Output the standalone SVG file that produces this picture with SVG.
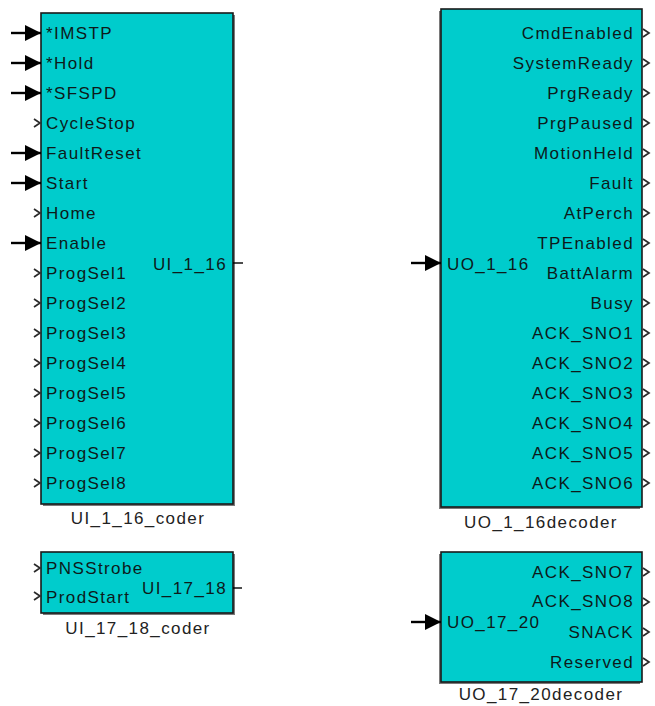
<svg xmlns="http://www.w3.org/2000/svg" width="655" height="706" viewBox="0 0 655 706">
<style>
.blk{fill:#00cccc;stroke:#1a1a1a;stroke-width:1.6}
.shd{fill:#7a7a7a}
text{font-family:"Liberation Sans",Arial,sans-serif;font-size:17px;letter-spacing:1.4px;fill:#0d1a1a}
.r{text-anchor:end}
.c{text-anchor:middle;fill:#222}
.chev{fill:none;stroke:#2a2a2a;stroke-width:1.7}
.sig{stroke:#000;stroke-width:2.4;fill:none}
.out{stroke:#000;stroke-width:1.4;fill:none}
</style>
<defs>
<marker id="ah" markerUnits="userSpaceOnUse" viewBox="0 0 16 16" markerWidth="16" markerHeight="16" refX="16" refY="8" orient="auto">
<path d="M0,0 L16,8 L0,16 Z" fill="#000"/>
</marker>
</defs>

<g id="UI_1_16_coder">
<rect class="shd" x="43" y="15" width="192" height="491"/>
<rect class="blk" x="41" y="13" width="192" height="491"/>
<text x="46" y="39">*IMSTP</text>
<text x="46" y="69">*Hold</text>
<text x="46" y="99">*SFSPD</text>
<text x="46" y="129">CycleStop</text>
<text x="46" y="159">FaultReset</text>
<text x="46" y="189">Start</text>
<text x="46" y="219">Home</text>
<text x="46" y="249">Enable</text>
<text x="46" y="279">ProgSel1</text>
<text x="46" y="309">ProgSel2</text>
<text x="46" y="339">ProgSel3</text>
<text x="46" y="369">ProgSel4</text>
<text x="46" y="399">ProgSel5</text>
<text x="46" y="429">ProgSel6</text>
<text x="46" y="459">ProgSel7</text>
<text x="46" y="489">ProgSel8</text>
<text class="r" x="227" y="269.5">UI_1_16</text>
<polyline class="chev" points="34,119 40,123 34,127"/>
<polyline class="chev" points="34,209 40,213 34,217"/>
<polyline class="chev" points="34,269 40,273 34,277"/>
<polyline class="chev" points="34,299 40,303 34,307"/>
<polyline class="chev" points="34,329 40,333 34,337"/>
<polyline class="chev" points="34,359 40,363 34,367"/>
<polyline class="chev" points="34,389 40,393 34,397"/>
<polyline class="chev" points="34,419 40,423 34,427"/>
<polyline class="chev" points="34,449 40,453 34,457"/>
<polyline class="chev" points="34,479 40,483 34,487"/>
<text class="c" x="138" y="523.5">UI_1_16_coder</text>
</g>

<g id="UI_17_18_coder">
<rect class="shd" x="43" y="554" width="192" height="61"/>
<rect class="blk" x="41" y="552" width="192" height="61"/>
<text x="46" y="574">PNSStrobe</text>
<text x="46" y="603">ProdStart</text>
<text class="r" x="227" y="594">UI_17_18</text>
<polyline class="chev" points="34,564 40,568 34,572"/>
<polyline class="chev" points="34,592 40,596 34,600"/>
<text class="c" x="138" y="633.5">UI_17_18_coder</text>
</g>

<g id="UO_1_16decoder">
<rect class="shd" x="439" y="11" width="201" height="498"/>
<rect class="blk" x="441" y="9" width="201" height="498"/>
<text x="447" y="269.5">UO_1_16</text>
<text class="r" x="634" y="39">CmdEnabled</text>
<text class="r" x="634" y="69">SystemReady</text>
<text class="r" x="634" y="99">PrgReady</text>
<text class="r" x="634" y="129">PrgPaused</text>
<text class="r" x="634" y="159">MotionHeld</text>
<text class="r" x="634" y="189">Fault</text>
<text class="r" x="634" y="219">AtPerch</text>
<text class="r" x="634" y="249">TPEnabled</text>
<text class="r" x="634" y="279">BattAlarm</text>
<text class="r" x="634" y="309">Busy</text>
<text class="r" x="634" y="339">ACK_SNO1</text>
<text class="r" x="634" y="369">ACK_SNO2</text>
<text class="r" x="634" y="399">ACK_SNO3</text>
<text class="r" x="634" y="429">ACK_SNO4</text>
<text class="r" x="634" y="459">ACK_SNO5</text>
<text class="r" x="634" y="489">ACK_SNO6</text>
<polyline class="chev" points="643,29 649,33 643,37"/>
<polyline class="chev" points="643,59 649,63 643,67"/>
<polyline class="chev" points="643,89 649,93 643,97"/>
<polyline class="chev" points="643,119 649,123 643,127"/>
<polyline class="chev" points="643,149 649,153 643,157"/>
<polyline class="chev" points="643,179 649,183 643,187"/>
<polyline class="chev" points="643,209 649,213 643,217"/>
<polyline class="chev" points="643,239 649,243 643,247"/>
<polyline class="chev" points="643,269 649,273 643,277"/>
<polyline class="chev" points="643,299 649,303 643,307"/>
<polyline class="chev" points="643,329 649,333 643,337"/>
<polyline class="chev" points="643,359 649,363 643,367"/>
<polyline class="chev" points="643,389 649,393 643,397"/>
<polyline class="chev" points="643,419 649,423 643,427"/>
<polyline class="chev" points="643,449 649,453 643,457"/>
<polyline class="chev" points="643,479 649,483 643,487"/>
<text class="c" x="541" y="527.5">UO_1_16decoder</text>
</g>

<g id="UO_17_20decoder">
<rect class="shd" x="439" y="554" width="201" height="130"/>
<rect class="blk" x="441" y="552" width="201" height="130"/>
<text x="447" y="628">UO_17_20</text>
<text class="r" x="634" y="577.5">ACK_SNO7</text>
<text class="r" x="634" y="607">ACK_SNO8</text>
<text class="r" x="634" y="637.5">SNACK</text>
<text class="r" x="634" y="667.5">Reserved</text>
<polyline class="chev" points="643,568 649,572 643,576"/>
<polyline class="chev" points="643,598 649,602 643,606"/>
<polyline class="chev" points="643,628 649,632 643,636"/>
<polyline class="chev" points="643,658 649,662 643,666"/>
<text class="c" x="541" y="699.5">UO_17_20decoder</text>
</g>

<g id="connectors">
<line class="sig" x1="11" y1="33" x2="41" y2="33" marker-end="url(#ah)"/>
<line class="sig" x1="11" y1="63" x2="41" y2="63" marker-end="url(#ah)"/>
<line class="sig" x1="11" y1="93" x2="41" y2="93" marker-end="url(#ah)"/>
<line class="sig" x1="11" y1="153" x2="41" y2="153" marker-end="url(#ah)"/>
<line class="sig" x1="11" y1="183" x2="41" y2="183" marker-end="url(#ah)"/>
<line class="sig" x1="11" y1="243" x2="41" y2="243" marker-end="url(#ah)"/>
<line class="sig" x1="411" y1="263" x2="441" y2="263" marker-end="url(#ah)"/>
<line class="sig" x1="411" y1="622" x2="441" y2="622" marker-end="url(#ah)"/>
<line class="out" x1="233" y1="263" x2="243" y2="263"/>
<line class="out" x1="233" y1="588" x2="242" y2="588"/>
</g>
</svg>
